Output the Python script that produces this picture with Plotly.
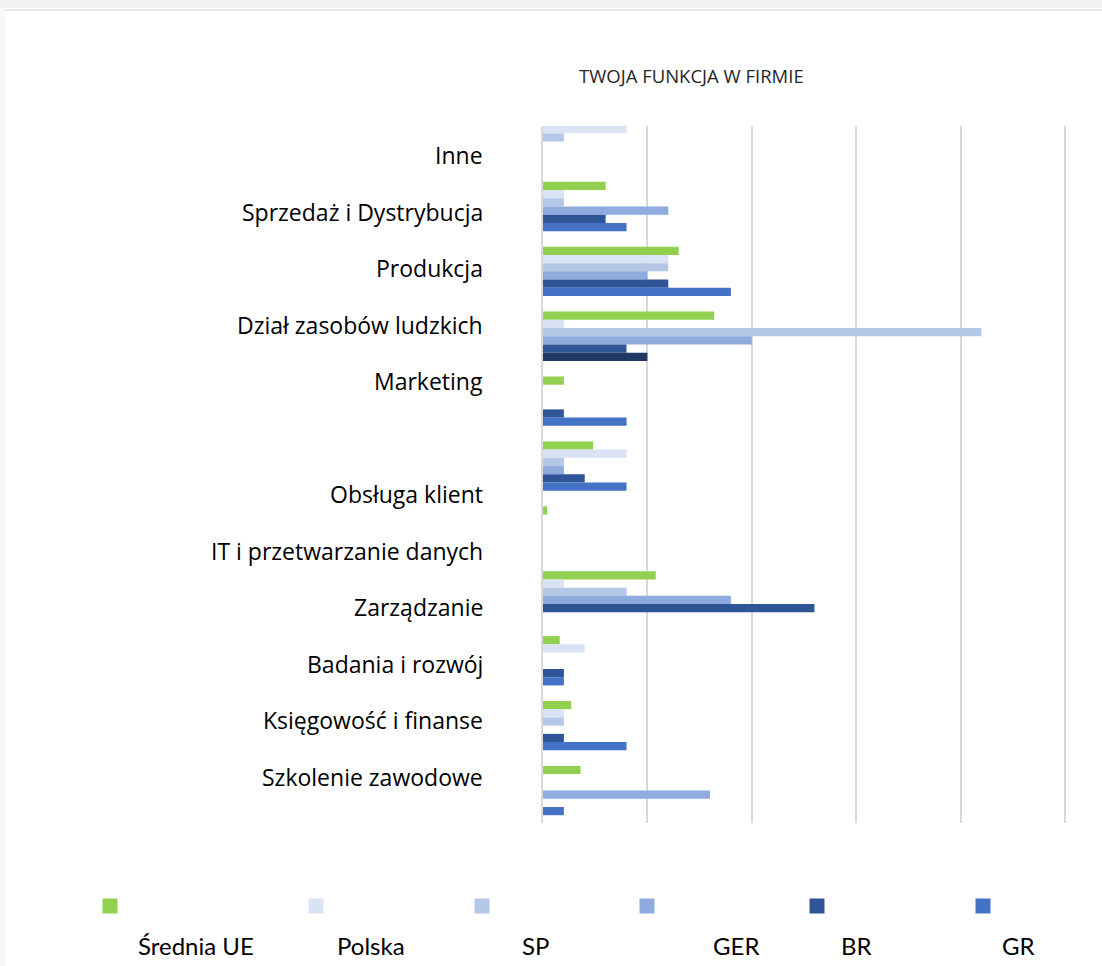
import plotly.graph_objects as go

# Figure geometry (pixels)
W, H = 1102, 966
L, R, T, B = 543, 30, 126, 143
PW, PH = W - L - R, H - T - B
GRID_RIGHT = 1065  # pixel where the 25 gridline sits


def px_x(p):
    return (p - L) / PW


def px_y(p):
    return 1 - (p - T) / PH


# ---- data -------------------------------------------------------------
title_text = "TWOJA FUNKCJA W FIRMIE"

# bar groups (top to bottom)
groups = [
    "Inne",
    "Sprzedaż i Dystrybucja",
    "Produkcja",
    "Dział zasobów ludzkich",
    "Marketing",
    "Obsługa klient",
    "IT i przetwarzanie danych",
    "Zarządzanie",
    "Badania i rozwój",
    "Księgowość i finanse",
    "Szkolenie zawodowe",
]

# category labels as laid out on the left (one empty slot)
tick_labels = [
    "Inne",
    "Sprzedaż i Dystrybucja",
    "Produkcja",
    "Dział zasobów ludzkich",
    "Marketing",
    "",
    "Obsługa klient",
    "IT i przetwarzanie danych",
    "Zarządzanie",
    "Badania i rozwój",
    "Księgowość i finanse",
    "Szkolenie zawodowe",
]

series_names = ["Średnia UE", "Polska", "SP", "GER", "BR", "GR"]

srednia_ue = [0, 3, 6.5, 8.2, 1, 2.4, 0.2, 5.4, 0.8, 1.35, 1.8]
polska = [4, 1, 6, 1, 0, 4, 0, 1, 2, 1, 0]
sp = [1, 1, 6, 21, 0, 1, 0, 4, 0, 1, 0]
ger = [0, 6, 5, 10, 0, 1, 0, 9, 0, 0, 8]
br = [0, 3, 6, 4, 1, 2, 0, 13, 1, 1, 0]
gr = [0, 4, 9, 5, 4, 4, 0, 0, 1, 4, 1]

series_values = [srednia_ue, polska, sp, ger, br, gr]
series_colors = ["#92d050", "#dae3f3", "#b4c7e7", "#8faadc", "#2f5597", "#4472c4"]

# ---- figure -----------------------------------------------------------
fig = go.Figure()

for name, vals, col in zip(series_names, series_values, series_colors):
    if name == "GR":
        # the HR bar in this series is drawn in a darker navy
        col = [("#203864" if g == "Dział zasobów ludzkich" else col) for g in groups]
    fig.add_trace(go.Bar(
        name=name, y=groups, x=vals, orientation="h",
        marker=dict(color=col, line=dict(width=0)),
        showlegend=False, hoverinfo="x+name",
    ))

fig.update_layout(
    width=W, height=H,
    margin=dict(l=L, r=R, t=T, b=B, pad=0),
    paper_bgcolor="white", plot_bgcolor="white",
    barmode="group", bargap=0.24, bargroupgap=0,
    font=dict(family="'Open Sans', Lato, sans-serif", color="#000000"),
)

x_max = 25 * PW / (GRID_RIGHT - L)
fig.update_xaxes(
    range=[0, x_max], dtick=5, tick0=0,
    showgrid=True, gridcolor="#d9d9d9", gridwidth=1.5,
    showticklabels=False, zeroline=False, showline=False, ticks="",
)
fig.update_yaxes(
    type="category", categoryarray=groups,
    range=[len(groups) - 0.5, -0.24],
    showticklabels=False, showgrid=False, zeroline=False,
    showline=True, linecolor="#d9d9d9", linewidth=1.5, ticks="",
)

annotations = []

# title
annotations.append(dict(
    text=title_text, xref="paper", yref="paper",
    x=px_x(691), y=px_y(76), xanchor="center", yanchor="middle",
    showarrow=False, font=dict(size=18.5, color="#262626"),
))

# category labels
label_top, label_step = 155, 56.5
for i, lab in enumerate(tick_labels):
    if not lab:
        continue
    annotations.append(dict(
        text=lab, xref="paper", yref="paper",
        x=px_x(485), y=px_y(label_top + i * label_step),
        xanchor="right", yanchor="middle", showarrow=False,
        font=dict(size=23, color="#000000"),
    ))

# legend: swatches on one row, names on the row below
swatch_x = [110, 316, 482, 647, 817, 983]
legend_text_x = [196, 371, 535, 736, 856, 1018]
shapes = []
for sx, tx, name, col in zip(swatch_x, legend_text_x, series_names, series_colors):
    shapes.append(dict(
        type="rect", xref="paper", yref="paper",
        x0=px_x(sx - 7.5), x1=px_x(sx + 7.5),
        y0=px_y(913.5), y1=px_y(898.5),
        fillcolor=col, line=dict(width=0),
    ))
    annotations.append(dict(
        text=name, xref="paper", yref="paper",
        x=px_x(tx), y=px_y(945), xanchor="center", yanchor="middle",
        showarrow=False,
        font=dict(family="Lato, sans-serif", size=24, color="#000000"),
    ))

# page chrome: grey strip on top and faint strip at the left edge
shapes.append(dict(
    type="rect", xref="paper", yref="paper", layer="below",
    x0=px_x(0), x1=px_x(W), y0=px_y(8), y1=px_y(0),
    fillcolor="#f0f2f3", line=dict(width=0),
))
shapes.append(dict(
    type="line", xref="paper", yref="paper", layer="below",
    x0=px_x(5), x1=px_x(W), y0=px_y(10), y1=px_y(10),
    line=dict(color="#e8eaea", width=2),
))
shapes.append(dict(
    type="rect", xref="paper", yref="paper", layer="below",
    x0=px_x(0), x1=px_x(5), y0=px_y(H), y1=px_y(8),
    fillcolor="#f6f8f8", line=dict(width=0),
))

fig.update_layout(annotations=annotations, shapes=shapes)

fig.write_html("out.html")
